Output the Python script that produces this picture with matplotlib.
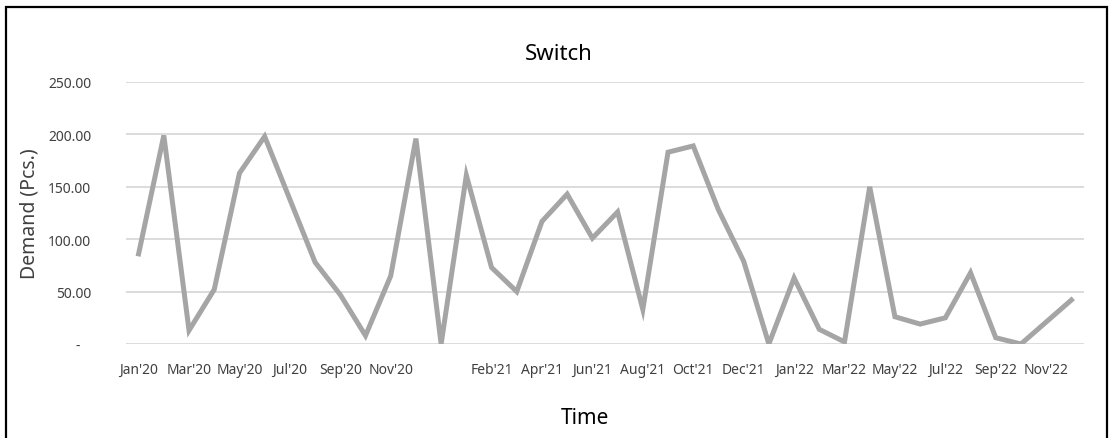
import matplotlib
matplotlib.use("Agg")
import matplotlib.pyplot as plt
from matplotlib.patches import Rectangle

plt.rcParams['font.family'] = ['Noto Sans', 'DejaVu Sans']

# 38 categories: a blank slot sits between the years (value plotted as 0)
months = ["Jan'20", "Feb'20", "Mar'20", "Apr'20", "May'20", "Jun'20", "Jul'20", "Aug'20",
          "Sep'20", "Oct'20", "Nov'20", "Dec'20", "",
          "Jan'21", "Feb'21", "Mar'21", "Apr'21", "May'21", "Jun'21", "Jul'21", "Aug'21",
          "Sep'21", "Oct'21", "Nov'21", "Dec'21", "",
          "Jan'22", "Feb'22", "Mar'22", "Apr'22", "May'22", "Jun'22", "Jul'22", "Aug'22",
          "Sep'22", "Oct'22", "Nov'22", "Dec'22"]
demand = [86, 199, 13, 52, 163, 198, 138, 78, 47, 8, 65, 196, 0,
          161, 73, 50, 117, 143, 101, 126, 33, 183, 189, 128, 79, 0,
          63, 14, 2, 150, 26, 19, 25, 68, 6, 0, 21, 42]
yticks = [0, 50, 100, 150, 200, 250]
ytick_labels = ["-   ", "50.00", "100.00", "150.00", "200.00", "250.00"]

W, H = 1112, 439
fig = plt.figure(figsize=(W / 100, H / 100), dpi=100)
fig.patch.set_color("white")

ax = fig.add_axes([126 / W, 1 - 345 / H, (1084 - 126) / W, (345 - 83) / H])
x = list(range(len(months)))
ax.plot(x, demand, color="#A5A5A5", linewidth=3.6, solid_joinstyle="miter", zorder=3)

ax.set_xlim(-0.5, len(months) - 0.5)
ax.set_ylim(0, 250)
ax.set_yticks(yticks)
ax.set_yticklabels(ytick_labels)
ax.set_xticks(x[::2])
ax.set_xticklabels(months[::2])
for s in ax.spines.values():
    s.set_visible(False)
ax.grid(axis="y", color="#D9D9D9", linewidth=1.3, zorder=0)
ax.tick_params(axis="both", length=0, labelsize=10, colors="#404040")
ax.tick_params(axis="y", pad=25)
ax.tick_params(axis="x", pad=13)

fig.text(559 / W, 1 - 54 / H, "Switch", ha="center", va="center", fontsize=16,
         fontweight="medium", color="black")
fig.text(585 / W, 1 - 419 / H, "Time", ha="center", va="center", fontsize=15,
         fontweight="medium", color="black")
fig.text(29 / W, 1 - 214 / H, "Demand (Pcs.)", ha="center", va="center", fontsize=14,
         rotation=90, color="#404040")

# chart frame (bottom edge falls outside the picture)
fig.patches.append(Rectangle((6 / W, -0.05), (1107 - 6) / W, 1.05 - 8 / H,
                             transform=fig.transFigure, fill=False,
                             edgecolor="black", linewidth=1.6, zorder=10))

fig.savefig("out.png", dpi=100)
